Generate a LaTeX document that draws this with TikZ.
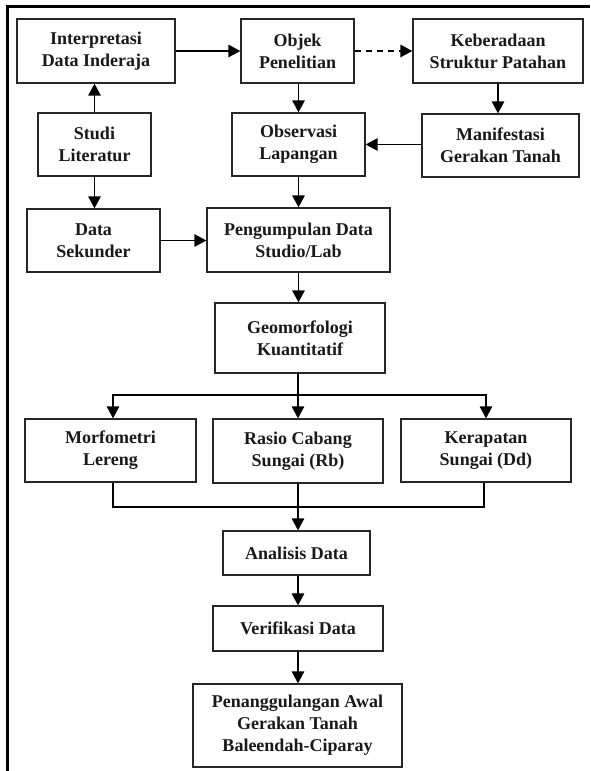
\documentclass[tikz,border=0pt]{standalone}
\usepackage{fontspec}
\setmainfont{Liberation Serif}
\usetikzlibrary{arrows.meta}
\begin{document}
\begin{tikzpicture}[x=1pt,y=-1pt,
  box/.style={draw=black!85,line width=1.3pt,fill=white,inner sep=0pt,align=center,
    font=\fontsize{18}{22}\selectfont\bfseries,text=black!90},
  arr/.style={line width=1.4pt,-{Triangle[length=12pt,width=12.5pt]}},
  ln/.style={line width=1.4pt}]
\useasboundingbox (0,0) rectangle (590,771);
\draw[line width=3.5pt] (7.5,771) -- (7.5,6.5) -- (590,6.5);
\node[box,minimum width=158pt,minimum height=64pt] (interp) at (96,51) {Interpretasi\\Data Inderaja};
\node[box,minimum width=113pt,minimum height=64pt] (objek) at (297.5,51) {Objek\\Penelitian};
\node[box,minimum width=170pt,minimum height=64pt] (keber) at (498,51) {Keberadaan\\Struktur Patahan};
\node[box,minimum width=113pt,minimum height=63pt] (studi) at (94.5,144.5) {Studi\\Literatur};
\node[box,minimum width=133pt,minimum height=63pt] (obs) at (298.5,144.5) {Observasi\\Lapangan};
\node[box,minimum width=157pt,minimum height=63pt] (manif) at (500.5,145.5) {Manifestasi\\Gerakan Tanah};
\node[box,minimum width=133pt,minimum height=63pt] (dsek) at (93.5,240.5) {Data\\Sekunder};
\node[box,minimum width=183pt,minimum height=64pt] (peng) at (298.5,240) {Pengumpulan Data\\Studio/Lab};
\node[box,minimum width=170pt,minimum height=70pt] (geo) at (300,338) {Geomorfologi\\Kuantitatif};
\node[box,minimum width=171pt,minimum height=63pt] (morf) at (110.5,450.5) {Morfometri\\Lereng};
\node[box,minimum width=170pt,minimum height=64pt] (rasio) at (298,451) {Rasio Cabang\\Sungai (Rb)};
\node[box,minimum width=170pt,minimum height=63pt] (kerap) at (486,450.5) {Kerapatan\\Sungai (Dd)};
\node[box,minimum width=147pt,minimum height=44pt] (anal) at (296.5,553) {Analisis Data};
\node[box,minimum width=170pt,minimum height=45pt] (verif) at (298,628.5) {Verifikasi Data};
\node[box,minimum width=209pt,minimum height=83pt] (penang) at (297.5,725.5) {Penanggulangan Awal\\Gerakan Tanah\\Baleendah-Ciparay};
\coordinate (br) at (298,395);
\coordinate (jn) at (298,507);
\draw[arr] (interp.east) -- (objek.west);
\draw[arr,dash pattern=on 6pt off 5pt] (objek.east) -- (keber.west);
\draw[arr] (keber.south) -- (keber.south |- manif.north);
\draw[arr] (manif.west |- obs.east) -- (obs.east);
\draw[arr] (objek.south -| obs.north) -- (obs.north);
\draw[arr] (studi.north) -- (studi.north |- interp.south);
\draw[arr] (studi.south) -- (studi.south |- dsek.north);
\draw[arr] (dsek.east) -- (dsek.east -| peng.west);
\draw[arr] (obs.south) -- (obs.south |- peng.north);
\draw[arr] (peng.south) -- (peng.south |- geo.north);
\draw[ln] (geo.south -| br) -- (br);
\draw[arr] (br) -| ([xshift=2.5pt]morf.north);
\draw[arr] (br) -| (kerap.north);
\draw[arr] (br) -- (rasio.north);
\draw[ln] ([xshift=2.5pt]morf.south) |- (jn);
\draw[ln] ([xshift=-2pt]kerap.south) |- (jn);
\draw[arr] (rasio.south) -- (rasio.south |- anal.north);
\draw[arr] (anal.south -| verif.north) -- (verif.north);
\draw[arr] (verif.south) -- (verif.south |- penang.north);
\end{tikzpicture}
\end{document}
